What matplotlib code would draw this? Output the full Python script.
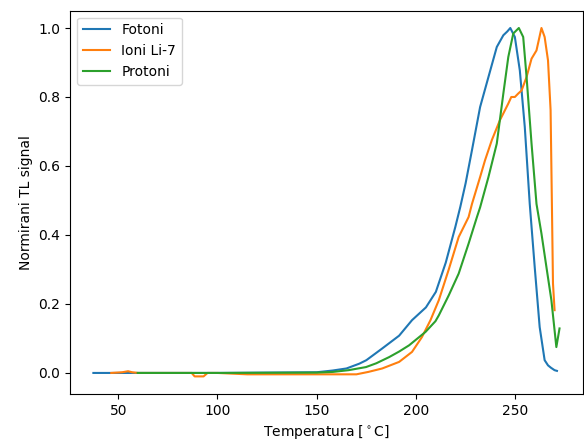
import numpy as np
import matplotlib
matplotlib.use("Agg")
import matplotlib.pyplot as plt

# Fotoni
t_fot = [37.5, 60, 100, 150, 158, 165, 171.5, 175, 183, 191.5, 198, 205, 210, 215, 219.8,
         222.3, 225, 228.2, 232.3, 236.5, 240.7, 244, 246, 247.5, 249.8, 252.3, 254.8,
         257.3, 259.8, 262.3, 264.8, 266.5, 268, 269.8, 271]
y_fot = [0.0, 0.0, 0.0, 0.002, 0.007, 0.013, 0.027, 0.037, 0.071, 0.108, 0.153, 0.19, 0.235, 0.32, 0.423,
         0.481, 0.55, 0.646, 0.771, 0.858, 0.945, 0.979, 0.99, 1.0, 0.974, 0.877, 0.713,
         0.49, 0.307, 0.133, 0.037, 0.022, 0.015, 0.008, 0.006]

# Ioni Li-7
t_li = [46.5, 52, 55, 57, 60, 87, 88.5, 93, 95, 100, 115, 150, 170, 176, 183, 191.5, 198,
        203, 207.3, 211.5, 216.5, 221.5, 226.5, 228.2, 232.3, 234.8, 238.2, 242.3, 246.5,
        248, 249.8, 251.5, 253.2, 255.7, 258.2, 260.7, 263.2, 264.8, 266.5, 267.8,
        268.5, 269, 269.8]
y_li = [0.0, 0.002, 0.005, 0.002, 0.0, 0.0, -0.01, -0.01, 0.0, 0.0, -0.004, -0.004, -0.004, 0.003, 0.013, 0.032, 0.061,
        0.104, 0.153, 0.211, 0.3, 0.394, 0.452, 0.49, 0.568, 0.617, 0.675, 0.733, 0.781,
        0.8, 0.8, 0.81, 0.819, 0.858, 0.911, 0.935, 1.0, 0.974, 0.906, 0.762,
        0.472, 0.26, 0.182]

# Protoni
t_pro = [59.8, 100, 150, 158.2, 166, 174.8, 180, 186.5, 191.5, 196.5, 204.8, 209.8, 211.5,
         216.5, 221.5, 226.5, 230.7, 232.3, 236.5, 240.7, 244, 246.5, 249, 251.8, 254,
         255.7, 258.2, 260.7, 263.2, 265.7, 268.2, 270.7, 272.3]
y_pro = [0.0, 0.0, 0.001, 0.003, 0.008, 0.017, 0.028, 0.046, 0.062, 0.08, 0.119, 0.15, 0.167,
         0.225, 0.288, 0.375, 0.452, 0.48, 0.568, 0.665, 0.81, 0.916, 0.984, 1.0, 0.974,
         0.858, 0.665, 0.49, 0.404, 0.307, 0.211, 0.075, 0.129]

fig = plt.figure(figsize=(5.84, 4.41), dpi=100)
ax = fig.add_axes([0.12, 0.107, 0.878, 0.869])

ax.plot(t_fot, y_fot, label="Fotoni")
ax.plot(t_li, y_li, label="Ioni Li-7")
ax.plot(t_pro, y_pro, label="Protoni")

ax.set_xlabel(r"Temperatura [$^\circ$C]")
ax.set_ylabel("Normirani TL signal")
ax.legend(loc="upper left")

fig.savefig("out.png", dpi=100)
